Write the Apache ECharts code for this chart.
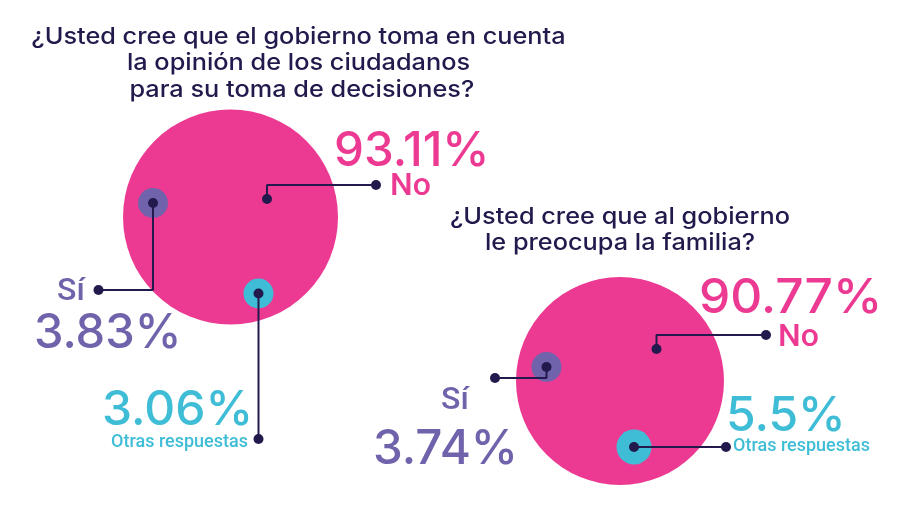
<!DOCTYPE html>
<html>
<head>
<meta charset="utf-8">
<title>Encuesta gobierno</title>
<script src="https://cdn.jsdelivr.net/npm/echarts@6/dist/echarts.min.js"></script>
<style>
  html, body { margin: 0; padding: 0; background: #fff; }
  #chart { width: 902px; height: 511px; }
</style>
</head>
<body>
<div id="chart"></div>
<script>
// datos
const categories = ['No', 'Sí', 'Otras respuestas'];
const valuesDecisiones = [93.11, 3.83, 3.06];
const valuesFamilia = [90.77, 3.74, 5.5];
const titleDecisiones = ['¿Usted cree que el gobierno toma en cuenta', 'la opinión de los ciudadanos', ' para su toma de decisiones?'];
const titleFamilia = ['¿Usted cree que al gobierno', 'le preocupa la familia?'];

const PINK = '#ec3a92', PURPLE = '#7163ab', CYAN = '#3fbdd6', DARK = '#221a4c';
const colors = [PINK, PURPLE, CYAN];
const BODY_FONT = 'Inter';
const LABEL_FONT = 'Roboto';

// posiciones en pixeles de cada burbuja y sus lineas (mismo orden que categories)
// texts: [x, y, tamano, escala horizontal]
const layoutDecisiones = {
  bubbles: [[230.5, 217, 215], [153, 203, 30], [258.5, 293.5, 30]],
  leaders: [
    [[267, 199], [267, 185], [376, 185]],
    [[153, 203], [153, 290], [98.5, 290]],
    [[258.5, 293.5], [258.5, 439]],
  ],
  texts: [
    { value: [334, 152, 48, 0.99], label: [390, 187, 32, 1] },
    { value: [34, 334, 48, 0.98], label: [57, 292, 32, 1] },
    { value: [102, 411, 48, 1], label: [111, 442, 18, 1] },
  ],
};
const layoutFamilia = {
  bubbles: [[620, 381, 208], [546.5, 367, 30], [634, 447, 35]],
  leaders: [
    [[656.5, 349], [656.5, 335], [766, 335]],
    [[546.5, 367], [546.5, 378], [495, 378]],
    [[634, 447], [726, 447]],
  ],
  texts: [
    { value: [699, 299, 48, 1.035], label: [778, 338, 32, 1] },
    { value: [373, 450, 48, 0.99], label: [441, 401, 32, 1] },
    { value: [726, 417, 48, 1], label: [733, 446, 18, 1] },
  ],
};

function buildSeries(values, layout) {
  const series = [{
    type: 'scatter',
    z: 2,
    silent: true,
    data: values.map((v, i) => ({
      name: categories[i],
      value: layout.bubbles[i].slice(0, 2),
      symbolSize: layout.bubbles[i][2],
      itemStyle: { color: colors[i], opacity: 1 },
    })),
  }];
  layout.leaders.forEach(points => {
    series.push({
      type: 'line',
      z: 3,
      silent: true,
      showSymbol: false,
      lineStyle: { color: DARK, width: 2 },
      data: points,
    });
    series.push({
      type: 'scatter',
      z: 4,
      silent: true,
      symbolSize: 10,
      itemStyle: { color: DARK, opacity: 1 },
      data: [points[0], points[points.length - 1]],
    });
  });
  return series;
}

function textEl(text, x, y, size, color, font, weight, scaleX) {
  return {
    type: 'text',
    x: x,
    y: y,
    scaleX: scaleX,
    z: 10,
    silent: true,
    style: {
      text: text,
      fill: color,
      font: weight + ' ' + size + 'px "' + font + '", sans-serif',
      textAlign: 'left',
      textVerticalAlign: 'middle',
    },
  };
}

function buildTexts(values, layout) {
  const out = [];
  values.forEach((v, i) => {
    const t = layout.texts[i];
    out.push(textEl(v + '%', t.value[0], t.value[1], t.value[2], colors[i], BODY_FONT, 500, t.value[3]));
    out.push(textEl(categories[i], t.label[0], t.label[1], t.label[2], colors[i], LABEL_FONT, 500, t.label[3]));
  });
  return out;
}

function titleEls(lines, cx, firstY) {
  return lines.map((line, i) => {
    const el = textEl(line, cx, firstY + i * 26.5, 23, DARK, BODY_FONT, 500, 1.1);
    el.style.textAlign = 'center';
    return el;
  });
}

const chart = echarts.init(document.getElementById('chart'));
chart.setOption({
  animation: false,
  backgroundColor: '#fff',
  grid: { left: 0, right: 0, top: 0, bottom: 0 },
  xAxis: { type: 'value', min: 0, max: 902, show: false },
  yAxis: { type: 'value', min: 0, max: 511, inverse: true, show: false },
  series: buildSeries(valuesDecisiones, layoutDecisiones).concat(buildSeries(valuesFamilia, layoutFamilia)),
  graphic: { elements: [].concat(
    titleEls(titleDecisiones, 298.5, 37),
    titleEls(titleFamilia, 620, 217),
    buildTexts(valuesDecisiones, layoutDecisiones),
    buildTexts(valuesFamilia, layoutFamilia)
  ) },
});
</script>
</body>
</html>
